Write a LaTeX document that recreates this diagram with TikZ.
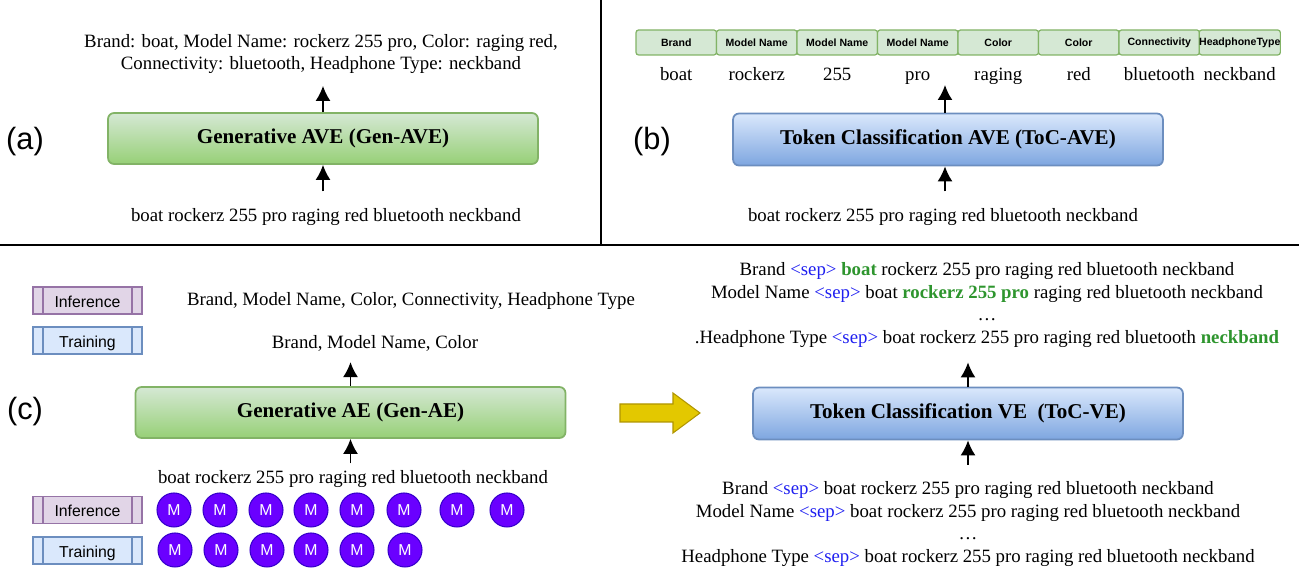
\documentclass[tikz,border=0pt]{standalone}
\usepackage{fontspec}
\setmainfont{Liberation Serif}
\setsansfont{Liberation Sans}
\usepackage{xcolor}
\usetikzlibrary{arrows.meta}

\definecolor{gfill}{HTML}{D5E8D4}
\definecolor{gdark}{HTML}{97D077}
\definecolor{gline}{HTML}{82B366}
\definecolor{bfill}{HTML}{DAE8FC}
\definecolor{bdark}{HTML}{7EA6E0}
\definecolor{bline}{HTML}{6C8EBF}
\definecolor{pfill}{HTML}{E1D5E7}
\definecolor{pline}{HTML}{9673A6}
\definecolor{mfill}{HTML}{6A00FF}
\definecolor{mline}{HTML}{3700CC}
\definecolor{yfill}{HTML}{E3C800}
\definecolor{yline}{HTML}{B09500}
\definecolor{sepblue}{HTML}{1F1FF0}
\definecolor{hitgreen}{HTML}{2E952E}

\newcommand{\sepTok}{\textcolor{sepblue}{<sep>}}
\newcommand{\hit}[1]{\textcolor{hitgreen}{\textbf{#1}}}

\begin{document}
\begin{tikzpicture}[x=0.02cm, y=-0.02cm,
        txt/.style={font=\fontsize{10.7}{12.8}\selectfont, align=center, inner sep=1pt},
        part/.style={font=\sffamily\fontsize{17.5}{20}\selectfont, inner sep=0pt},
        greenbox/.style={draw=gline, line width=1pt, rounded corners=0.12cm,
            top color=gfill, bottom color=gdark, minimum width=8.6cm, minimum height=1.02cm,
            font=\fontsize{12}{14}\selectfont\bfseries},
        bluebox/.style={draw=bline, line width=1pt, rounded corners=0.12cm,
            top color=bfill, bottom color=bdark, minimum width=8.6cm, minimum height=1.04cm,
            font=\fontsize{12}{14}\selectfont\bfseries},
        tokbox/.style={draw=gline, fill=gfill, line width=0.7pt, rounded corners=1.5pt,
            minimum width=1.61cm, minimum height=0.5cm, inner sep=0pt,
            font=\sffamily\bfseries\fontsize{6}{7}\selectfont},
        stagebox/.style 2 args={draw=#2, fill=#1, line width=0.8pt, minimum width=2.18cm,
            minimum height=0.54cm, inner sep=0pt, text height=8pt, text depth=0.5pt,
            font=\sffamily\fontsize{9}{10}\selectfont,
            path picture={\draw[#2, line width=0.8pt]
                ([xshift=0.2cm]path picture bounding box.north west) -- ([xshift=0.2cm]path picture bounding box.south west)
                ([xshift=-0.2cm]path picture bounding box.north east) -- ([xshift=-0.2cm]path picture bounding box.south east);}},
        mnode/.style={circle, draw=mline, fill=mfill, line width=0.6pt, minimum size=0.68cm,
            inner sep=0pt, text=white, font=\sffamily\fontsize{9}{10}\selectfont},
        arr/.style={-{Latex[length=0.3cm, width=0.3cm]}, line width=1pt}]
    \useasboundingbox (0,0) rectangle (1299,573);

    % frame lines
    \draw[line width=0.6pt] (0,245) -- (1299,245);
    \draw[line width=0.6pt] (601,0) -- (601,245);

    % (a) generative AVE
    \node[part] (pa) at (25,142) {(a)};
    \node[greenbox] (genave) at (323,138.5) {Generative AVE (Gen-AVE)};
    \node[txt] (outA) at (321,54) {Brand: boat, Model Name: rockerz 255 pro, Color: raging red,\\Connectivity: bluetooth, Headphone Type: neckband};
    \node[txt] (inA) at (326,217) {boat rockerz 255 pro raging red bluetooth neckband};
    \draw[arr, shorten >=0.2cm] (genave) -- (genave |- outA.south);
    \draw[arr, shorten <=0.3cm] (inA.north -| genave) -- (genave);

    % (b) token classification AVE
    \node[part] (pb) at (652,142) {(b)};
    \foreach \lab/\word [count=\i] in {Brand/boat, Model Name/rockerz, Model Name/255, Model Name/pro,
            Color/raging, Color/red, Connectivity/bluetooth, HeadphoneType/neckband} {
        \node[tokbox] (tag\i) at (595.75+80.5*\i, 42.5) {\lab};
        \node[txt, anchor=base] (tok\i) at (595.75+80.5*\i, 81) {\word};
    }
    \node[bluebox] (tocave) at (948,139.5) {Token Classification AVE (ToC-AVE)};
    \node[txt] (inB) at (943,217) {boat rockerz 255 pro raging red bluetooth neckband};
    \coordinate (tagtip) at (945,85);
    \draw[arr] (tocave.north -| tagtip) -- (tagtip);
    \draw[arr, shorten <=0.3cm] (inB.north -| tagtip) -- (tocave.south -| tagtip);

    % (c) generative AE + token classification VE
    \node[part] (pc) at (25,412) {(c)};
    \node[stagebox={pfill}{pline}] (inf1) at (87.5,300.5) {Inference};
    \node[stagebox={bfill}{bline}] (trn1) at (87.5,340.5) {Training};
    \node[txt] (allattr) at (411,301) {Brand, Model Name, Color, Connectivity, Headphone Type};
    \node[txt] (someattr) at (375,343) {Brand, Model Name, Color};
    \node[greenbox] (genae) at (350.5,412.5) {Generative AE (Gen-AE)};
    \node[txt] (inC) at (353,479) {boat rockerz 255 pro raging red bluetooth neckband};
    \draw[arr, shorten >=0.18cm] (genae) -- (genae |- someattr.south);
    \draw[arr, shorten <=0.1cm] (inC.north -| genae) -- (genae);

    \node[stagebox={pfill}{pline}] (inf2) at (87.5,510) {Inference};
    \node[stagebox={bfill}{bline}] (trn2) at (87.5,550.5) {Training};
    \foreach \x [count=\i] in {174,220,266,311,357,404,457,507}
        \node[mnode] (mi\i) at (\x,510) {M};
    \foreach \x [count=\i] in {175,221,267,311,357,405}
        \node[mnode] (mt\i) at (\x,550) {M};

    \draw[draw=yline, fill=yfill, line width=0.6pt] (620,404) -- (673,404) -- (673,393) -- (700,413)
        -- (673,433) -- (673,422) -- (620,422) -- cycle;

    \node[bluebox] (tocve) at (968,413.5) {Token Classification VE\ \ (ToC-VE)};
    \node[txt] (outR) at (987,305) {Brand \sepTok{} \hit{boat} rockerz 255 pro raging red bluetooth neckband\\
        Model Name \sepTok{} boat \hit{rockerz 255 pro} raging red bluetooth neckband\\
        …\\
        .Headphone Type \sepTok{} boat rockerz 255 pro raging red bluetooth \hit{neckband}};
    \node[txt] (inR) at (968,524) {Brand \sepTok{} boat rockerz 255 pro raging red bluetooth neckband\\
        Model Name \sepTok{} boat rockerz 255 pro raging red bluetooth neckband\\
        …\\
        Headphone Type \sepTok{} boat rockerz 255 pro raging red bluetooth neckband};
    \draw[arr, shorten >=0.26cm] (tocve) -- (tocve |- outR.south);
    \draw[arr, shorten <=0.3cm] (inR.north -| tocve) -- (tocve);
\end{tikzpicture}
\end{document}
